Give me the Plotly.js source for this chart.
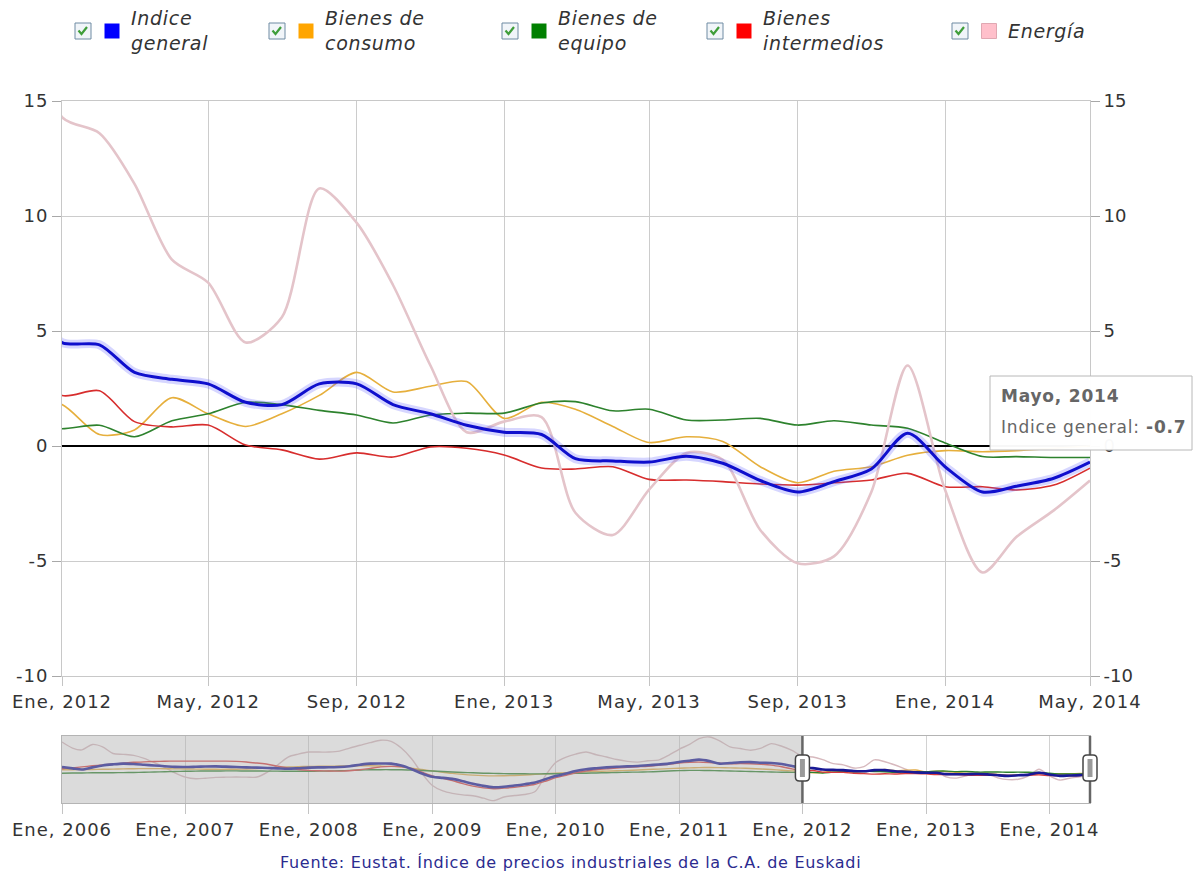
<!DOCTYPE html>
<html>
<head>
<meta charset="utf-8">
<script src="https://cdn.plot.ly/plotly-3.0.1.min.js"></script>
<style>
  html, body { margin: 0; padding: 0; background: #fff; }
  #chart { width: 1193px; height: 872px; }
  #chart .xaxislayer-above text, #chart .yaxislayer-above text { letter-spacing: 1px; }
</style>
</head>
<body>
<div id="chart"></div>
<script>
// ---------- DATA (monthly, Ene 2006 .. May 2014) ----------
const startYear = 2006, endYear = 2014, endMonth = 5;
const months = [];
for (let y = startYear; y <= endYear; y++) {
  for (let m = 1; m <= 12; m++) {
    if (y === endYear && m > endMonth) break;
    months.push(y + '-' + String(m).padStart(2, '0') + '-01');
  }
}

const seriesNames = ['Indice general', 'Bienes de consumo', 'Bienes de equipo', 'Bienes intermedios', 'Energía'];
const legendLabels = ['Indice<br>general', 'Bienes de<br>consumo', 'Bienes de<br>equipo', 'Bienes<br>intermedios', 'Energía'];

const indiceGeneral = [
  5.3, 4.2, 3.2, 5.0, 6.6, 7.5, 8.1, 7.8, 7.2, 6.6, 6.0, 5.4,
  5.3, 5.5, 5.7, 5.8, 5.6, 5.3, 5.0, 4.8, 4.5, 4.2, 3.9, 4.3,
  4.8, 5.0, 5.1, 5.3, 6.0, 7.2, 8.1, 8.2, 8.1, 6.5, 3.5, 0.0,
  -2.8, -3.7, -4.5, -6.5, -8.5, -10.3, -11.4, -11.0, -10.0, -8.9, -7.5, -4.8,
  -2.2, 0.0, 2.0, 3.5, 4.3, 5.0, 5.5, 5.8, 6.2, 6.8, 7.4, 8.1,
  9.5, 10.5, 11.4, 10.2, 8.1, 8.6, 9.2, 9.4, 8.9, 8.6, 7.8, 6.2,
  4.5, 4.4, 3.2, 2.9, 2.7, 1.9, 1.8, 2.7, 2.7, 1.8, 1.4, 0.9,
  0.6, 0.5, -0.55, -0.65, -0.7, -0.45, -0.75, -1.5, -2.0, -1.55, -1.0, 0.55,
  -0.9, -2.0, -1.75, -1.4, -0.7
];
const bienesConsumo = [
  3.0, 3.1, 3.2, 3.3, 3.4, 3.6, 3.8, 3.9, 4.0, 4.0, 3.9, 3.8,
  3.7, 3.6, 3.5, 3.4, 3.4, 3.5, 3.7, 4.0, 4.4, 4.9, 5.3, 5.6,
  5.8, 5.9, 6.0, 6.1, 6.2, 6.3, 6.3, 6.1, 5.8, 5.2, 4.3, 3.2,
  2.0, 1.0, 0.0, -0.8, -1.4, -1.8, -2.0, -1.9, -1.7, -1.3, -0.8, -0.3,
  0.2, 0.6, 1.0, 1.3, 1.6, 1.9, 2.2, 2.5, 2.8, 3.2, 3.6, 4.0,
  4.3, 4.6, 4.8, 4.9, 4.8, 4.6, 4.4, 4.1, 3.7, 3.2, 2.6, 2.1,
  1.8, 0.5, 0.7, 2.1, 1.4, 0.85, 1.4, 2.2, 3.2, 2.35, 2.6, 2.8,
  1.2, 1.9, 1.6, 0.85, 0.15, 0.4, 0.2, -0.9, -1.6, -1.1, -0.9, -0.4,
  -0.2, -0.25, -0.2, -0.1, 0.0
];
const bienesEquipo = [
  0.2, 0.3, 0.4, 0.5, 0.5, 0.6, 0.7, 0.8, 1.0, 1.2, 1.4, 1.6,
  1.8, 1.9, 2.0, 2.0, 2.1, 2.1, 2.0, 2.0, 1.9, 1.9, 1.8, 1.8,
  1.8, 1.9, 2.0, 2.2, 2.5, 2.8, 3.0, 3.1, 3.1, 3.0, 2.8, 2.4,
  2.0, 1.6, 1.2, 0.8, 0.5, 0.2, 0.0, -0.2, -0.3, -0.3, -0.4, -0.3,
  -0.3, -0.2, 0.0, 0.2, 0.4, 0.6, 0.8, 1.0, 1.1, 1.3, 1.6, 2.0,
  2.3, 2.5, 2.5, 2.4, 2.2, 2.0, 1.8, 1.6, 1.4, 1.2, 1.0, 0.9,
  0.75, 0.9, 0.4, 1.1, 1.4, 1.9, 1.8, 1.55, 1.35, 1.0, 1.35, 1.43,
  1.43, 1.87, 1.93, 1.53, 1.6, 1.13, 1.13, 1.2, 0.91, 1.1, 0.91, 0.77,
  0.13, -0.46, -0.46, -0.5, -0.5
];
const bienesIntermedios = [
  3.9, 4.6, 5.4, 6.3, 7.1, 7.8, 8.5, 9.2, 9.6, 9.9, 10.1, 10.2,
  10.2, 10.2, 10.2, 10.2, 10.2, 10.0, 9.5, 8.6, 7.6, 6.0, 4.5, 3.3,
  2.5, 2.2, 2.0, 1.9, 2.2, 3.0, 4.2, 5.4, 5.8, 5.6, 4.0, 1.0,
  -2.0, -4.0, -6.0, -8.5, -10.5, -12.0, -12.7, -12.2, -11.5, -10.5, -9.0, -6.5,
  -3.5, -1.5, 0.5, 2.0, 3.0, 3.8, 4.5, 5.0, 5.5, 6.0, 6.8, 7.6,
  8.6, 9.2, 9.4, 9.0, 8.4, 8.0, 8.1, 8.0, 7.6, 6.9, 5.5, 3.8,
  2.2, 2.4, 1.06, 0.83, 0.91, 0.04, -0.17, -0.57, -0.3, -0.48, -0.04, -0.1,
  -0.39, -0.96, -1.0, -0.9, -1.45, -1.48, -1.55, -1.65, -1.7, -1.6, -1.48, -1.19,
  -1.77, -1.77, -1.91, -1.7, -0.96
];
const energia = [
  26.0, 21.0, 19.5, 24.0, 22.0, 16.5, 15.8, 15.0, 12.5, 9.0, 5.0, 0.5,
  -3.0, -4.4, -4.0, -3.3, -3.1, -3.0, -3.1, -3.0, 1.1, 7.0, 13.6, 16.0,
  17.7, 17.7, 17.7, 18.5, 21.0, 23.3, 25.5, 27.5, 26.5, 21.0, 12.0, 0.0,
  -10.0, -14.5, -16.5, -17.8, -18.5, -20.5, -22.5, -19.5, -18.3, -17.5, -15.0, -2.0,
  9.0, 13.5, 16.0, 17.7, 15.5, 13.6, 11.5, 10.0, 9.4, 10.5, 11.0, 15.0,
  20.0, 24.0, 28.9, 30.2, 27.0, 22.0, 20.6, 19.2, 21.0, 24.7, 22.5, 19.0,
  14.3, 13.6, 11.4, 8.1, 7.1, 4.5, 5.6, 11.2, 9.7, 7.0, 3.5, 0.6,
  1.06, 1.26, -2.9, -3.87, -1.9, -0.3, -0.6, -3.65, -5.1, -4.8, -2.0, 3.5,
  -1.9, -5.5, -3.96, -2.8, -1.5
];

const mainTickVals = ['2012-01-01','2012-05-01','2012-09-01','2013-01-01','2013-05-01','2013-09-01','2014-01-01','2014-05-01'];
const mainTickText = ['Ene, 2012','May, 2012','Sep, 2012','Ene, 2013','May, 2013','Sep, 2013','Ene, 2014','May, 2014'];
const navTickVals = ['2006-01-01','2007-01-01','2008-01-01','2009-01-01','2010-01-01','2011-01-01','2012-01-01','2013-01-01','2014-01-01'];
const navTickText = ['Ene, 2006','Ene, 2007','Ene, 2008','Ene, 2009','Ene, 2010','Ene, 2011','Ene, 2012','Ene, 2013','Ene, 2014'];
const yTickVals = [-10, -5, 0, 5, 10, 15];
const yTickText = ['-10', '-5', '0', '5', '10', '15'];

const tooltipTitle = 'Mayo, 2014';
const tooltipValue = '-0.7';
const sourceText = 'Fuente: Eustat. Índice de precios industriales de la C.A. de Euskadi';

// ---------- STYLE ----------
const legendColors = ['#0000ff', '#ffa500', '#008000', '#ff0000', '#ffc0cb'];
const lineColors = ['rgb(15,15,205)', 'rgb(230,175,60)', 'rgb(45,130,45)', 'rgb(215,45,45)', 'rgb(228,196,202)'];
const navColors = ['rgb(25,25,150)', 'rgb(225,170,70)', 'rgb(45,130,45)', 'rgb(215,60,60)', 'rgb(215,185,190)'];
const allSeries = [indiceGeneral, bienesConsumo, bienesEquipo, bienesIntermedios, energia];

const FONT = 'DejaVu Sans, Verdana, sans-serif';
const W = 1193, H = 872;
const L = 62, R = 1090, T = 101, B = 803;
const px = x => (x - L) / (R - L);
const py = y => (B - y) / (B - T);
const spaced = (t, s) => '<span style="letter-spacing:' + s + 'px">' + t + '</span>';

// ---------- TRACES ----------
const traces = [];
[1, 2, 3, 4].forEach(i => {
  traces.push({
    type: 'scatter', mode: 'lines', x: months, y: allSeries[i], name: seriesNames[i],
    xaxis: 'x', yaxis: 'y',
    line: { color: lineColors[i], width: i === 4 ? 2.6 : 1.6, shape: 'spline', smoothing: 0.8 },
    hoverinfo: 'skip', showlegend: false
  });
});
traces.push({
  type: 'scatter', mode: 'lines', x: months, y: indiceGeneral, xaxis: 'x', yaxis: 'y',
  line: { color: 'rgba(90,90,255,0.25)', width: 9, shape: 'spline', smoothing: 0.8 },
  hoverinfo: 'skip', showlegend: false
});
traces.push({
  type: 'scatter', mode: 'lines', x: months, y: indiceGeneral, name: seriesNames[0], xaxis: 'x', yaxis: 'y',
  line: { color: lineColors[0], width: 3, shape: 'spline', smoothing: 0.8 },
  hoverinfo: 'skip', showlegend: false
});
traces.push({
  type: 'scatter', mode: 'lines', x: months, y: indiceGeneral, xaxis: 'x', yaxis: 'y3',
  line: { color: 'rgba(0,0,0,0)', width: 0 }, opacity: 0, hoverinfo: 'skip', showlegend: false
});
[4, 1, 2, 3, 0].forEach(i => {
  traces.push({
    type: 'scatter', mode: 'lines', x: months, y: allSeries[i], xaxis: 'x2', yaxis: 'y2',
    line: { color: navColors[i], width: i === 0 ? 2.6 : 1.4, shape: 'spline', smoothing: 0.8 },
    hoverinfo: 'skip', showlegend: false
  });
});

// ---------- SHAPES & ANNOTATIONS ----------
const shapes = [];
const annotations = [];
const navTop = py(736), navBottom = 0;

shapes.push({
  type: 'rect', xref: 'x2', yref: 'paper', x0: months[0], x1: '2012-01-01', y0: navBottom, y1: navTop,
  fillcolor: 'rgba(175,175,175,0.45)', line: { width: 0 }, layer: 'above'
});
const handleDefs = [
  { xref: 'x2', x: '2012-01-01' },
  { xref: 'paper', x: 1 }
];
handleDefs.forEach(h => {
  shapes.push({
    type: 'line', xref: h.xref, yref: 'paper', x0: h.x, x1: h.x, y0: navBottom, y1: navTop,
    line: { color: '#666', width: 2.5 }, layer: 'above'
  });
  shapes.push({
    type: 'path', xref: h.xref, yref: 'paper', xsizemode: 'pixel', ysizemode: 'pixel',
    xanchor: h.x, yanchor: py(768),
    path: 'M -3,-13 L 3,-13 Q 7,-13 7,-9 L 7,9 Q 7,13 3,13 L -3,13 Q -7,13 -7,9 L -7,-9 Q -7,-13 -3,-13 Z',
    fillcolor: '#ffffff', line: { color: '#444', width: 1.5 }, layer: 'above'
  });
  shapes.push({
    type: 'rect', xref: h.xref, yref: 'paper', xsizemode: 'pixel', ysizemode: 'pixel',
    xanchor: h.x, yanchor: py(768), x0: -2.5, x1: 2.5, y0: -9, y1: 9,
    fillcolor: '#9a9a9a', line: { width: 0 }, layer: 'above'
  });
});

// custom legend
const cbX = [83, 277, 510, 715, 960];
const legY = 31;
for (let i = 0; i < 5; i++) {
  const cx = cbX[i];
  shapes.push({
    type: 'rect', xref: 'paper', yref: 'paper', xsizemode: 'pixel', ysizemode: 'pixel',
    xanchor: px(cx), yanchor: py(legY), x0: -8, x1: 8, y0: -8, y1: 8,
    fillcolor: '#f1f5f9', line: { color: '#6f8ba3', width: 1 }
  });
  shapes.push({
    type: 'path', xref: 'paper', yref: 'paper', xsizemode: 'pixel', ysizemode: 'pixel',
    xanchor: px(cx), yanchor: py(legY),
    path: 'M -4.5,0.5 L -1.5,-3 L 4,4',
    line: { color: '#3f9e3a', width: 2.2 }
  });
  shapes.push({
    type: 'rect', xref: 'paper', yref: 'paper', xsizemode: 'pixel', ysizemode: 'pixel',
    xanchor: px(cx + 29), yanchor: py(legY), x0: -7.5, x1: 7.5, y0: -7.5, y1: 7.5,
    fillcolor: legendColors[i], line: { width: i === 4 ? 1 : 0, color: '#e0a8b2' }
  });
  const lines = legendLabels[i].split('<br>').map(t => spaced(t, 0.7)).join('<br>');
  annotations.push({
    xref: 'paper', yref: 'paper', x: px(cx + 46), y: py(legY), xanchor: 'left', yanchor: 'middle',
    text: '<i>' + lines + '</i>', showarrow: false, align: 'left',
    font: { family: FONT, size: 19, color: '#333' }
  });
}

// source
annotations.push({
  xref: 'paper', yref: 'paper', x: px(570), y: py(862), xanchor: 'center', yanchor: 'middle',
  text: spaced(sourceText, 0.7), showarrow: false, font: { family: FONT, size: 16, color: '#2b2b8f' }
});

// tooltip box + text
shapes.push({
  type: 'rect', xref: 'paper', yref: 'paper', x0: px(990), x1: px(1192), y0: py(450), y1: py(376),
  fillcolor: 'rgba(255,255,255,0.97)', line: { color: '#b8b8b8', width: 1 }, layer: 'above'
});
annotations.push({
  xref: 'paper', yref: 'paper', x: px(999), y: py(396), xanchor: 'left', yanchor: 'middle',
  text: spaced('<b>' + tooltipTitle + '</b>', 0.8), showarrow: false, align: 'left',
  font: { family: FONT, size: 17, color: '#666' }
});
annotations.push({
  xref: 'paper', yref: 'paper', x: px(999), y: py(427), xanchor: 'left', yanchor: 'middle',
  text: spaced(seriesNames[0] + ': <b>' + tooltipValue + '</b>', 0.8), showarrow: false, align: 'left',
  font: { family: FONT, size: 17, color: '#666' }
});

// ---------- LAYOUT ----------
const tickFont = { family: FONT, size: 18, color: '#333' };
const layout = {
  width: W, height: H,
  margin: { l: L, r: W - R, t: T, b: H - B, pad: 0 },
  paper_bgcolor: '#ffffff', plot_bgcolor: 'rgba(0,0,0,0)',
  showlegend: false, hovermode: false,
  xaxis: {
    domain: [0, 1], anchor: 'y', type: 'date',
    range: ['2012-01-01', months[months.length - 1]],
    tickmode: 'array', tickvals: mainTickVals, ticktext: mainTickText,
    showgrid: true, gridcolor: '#cccccc', gridwidth: 1,
    ticks: 'outside', ticklen: 9, tickcolor: '#c4c4c4',
    showline: true, mirror: true, linecolor: '#c8c8c8', linewidth: 1,
    zeroline: false, tickfont: tickFont, fixedrange: true
  },
  yaxis: {
    domain: [py(676), 1], anchor: 'x', range: [-10, 15],
    tickmode: 'array', tickvals: yTickVals, ticktext: yTickText,
    showgrid: true, gridcolor: '#cccccc', gridwidth: 1,
    ticks: 'outside', ticklen: 9, tickcolor: '#a8a8a8',
    zeroline: true, zerolinecolor: '#000000', zerolinewidth: 1.6,
    showline: true, mirror: true, linecolor: '#c8c8c8', linewidth: 1,
    tickfont: tickFont, fixedrange: true
  },
  yaxis3: {
    overlaying: 'y', side: 'right', anchor: 'x', range: [-10, 15],
    tickmode: 'array', tickvals: yTickVals, ticktext: yTickText,
    showgrid: false, zeroline: false, showline: false,
    ticks: 'outside', ticklen: 9, tickcolor: '#a8a8a8',
    tickfont: tickFont, fixedrange: true
  },
  xaxis2: {
    domain: [0, 1], anchor: 'y2', type: 'date',
    range: [months[0], months[months.length - 1]],
    tickmode: 'array', tickvals: navTickVals, ticktext: navTickText,
    showgrid: true, gridcolor: '#d2d2d2', gridwidth: 1,
    ticks: 'outside', ticklen: 10, tickcolor: '#c4c4c4',
    showline: true, mirror: true, linecolor: '#b4b4b4', linewidth: 1,
    zeroline: false, tickfont: tickFont, fixedrange: true
  },
  yaxis2: {
    domain: [0, navTop], anchor: 'x2', range: [-24.5, 31],
    showticklabels: false, showgrid: false, zeroline: false, ticks: '',
    showline: true, mirror: true, linecolor: '#b4b4b4', linewidth: 1, fixedrange: true
  },
  shapes: shapes,
  annotations: annotations
};

Plotly.newPlot('chart', traces, layout, { displayModeBar: false, staticPlot: true });
</script>
</body>
</html>
